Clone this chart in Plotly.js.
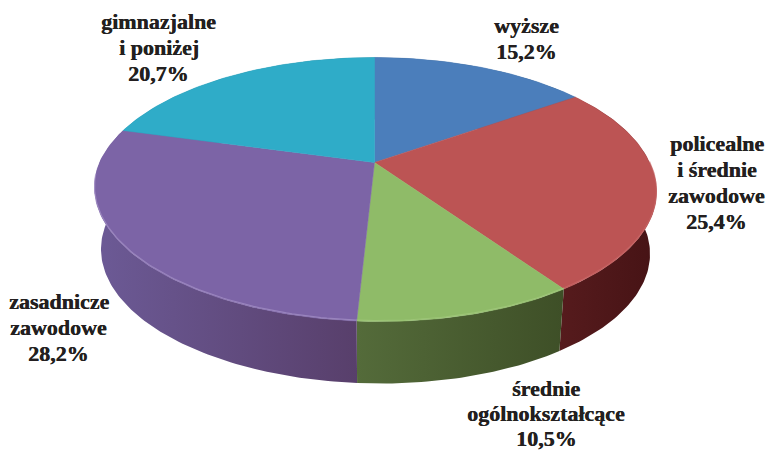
<!DOCTYPE html>
<html>
<head>
<meta charset="utf-8">
<script src="https://cdn.plot.ly/plotly-3.0.1.min.js"></script>
<style>html,body{margin:0;padding:0;background:#fff}#c{width:769px;height:451px}</style>
</head>
<body>
<div id="c"></div>
<script>
// Data
const categories = ['wyższe','policealne<br>i średnie<br>zawodowe','średnie<br>ogólnokształcące','zasadnicze<br>zawodowe','gimnazjalne<br>i poniżej'];
const values = [15.2, 25.4, 10.5, 28.2, 20.7];
const valueLabels = ['15,2%','25,4%','10,5%','28,2%','20,7%'];

// Styles
const topColors = ['#4b7ebb','#bc5454','#8fbb68','#7c64a6','#2facc8'];
const wallLeft  = ['#3a5f8e','#561b1d','#546b3a','#6c5a96','#23849a'];
const wallRight = ['#2f4d74','#461315','#3e4f27','#583f6b','#1c6c7e'];
const rimColors = ['#6f9bd1','#c96666','#a2c97e','#a592c8','#56c2d8'];
const labelX = [526, 716.5, 546, 58.5, 158.5];
const labelY = [38, 182, 413.5, 327, 47];
const lineGap = [26, 26, 25, 26, 26];

// Perspective geometry of the disc
const cx = 374.5, cy = 162.5, a = 275, b = 126.5, k = 0.2045, depth = 62, shrink = 0.977, lean = 0.038;
function topPt(t){
  const u=Math.sin(t), v=Math.cos(t), d=1+k*v, y=cy-b*v/d;
  return [cx+a*u/d+lean*Math.max(0,y-cy), y];
}
function botPt(t){ const p=topPt(t); return [cx+(p[0]-cx)*shrink, p[1]+depth]; }
function arc(t0,t1,fn){ const n=Math.max(2,Math.ceil((t1-t0)*180/Math.PI)); const o=[]; for(let i=0;i<=n;i++) o.push(fn(t0+(t1-t0)*i/n)); return o; }

const total = values.reduce((s,x)=>s+x,0);
let cum = 0;
const slices = values.map(v=>{ const s=cum/total*2*Math.PI; cum+=v; return [s, cum/total*2*Math.PI]; });

const traces = [];
// side walls
slices.forEach(([s,e],i)=>{
  const pts = arc(s,e,topPt).concat(arc(s,e,botPt).reverse());
  pts.push(pts[0]);
  traces.push({type:'scatter',mode:'lines',x:pts.map(p=>p[0]),y:pts.map(p=>p[1]),line:{width:0},
    fill:'toself',fillgradient:{type:'horizontal',colorscale:[[0,wallLeft[i]],[1,wallRight[i]]]},hoverinfo:'skip',showlegend:false});
});
// top faces
slices.forEach(([s,e],i)=>{
  const pts = [[cx,cy]].concat(arc(s,e,topPt)); pts.push([cx,cy]);
  traces.push({type:'scatter',mode:'lines',x:pts.map(p=>p[0]),y:pts.map(p=>p[1]),line:{width:0.5,color:topColors[i]},
    fill:'toself',fillcolor:topColors[i],hoverinfo:'skip',showlegend:false,name:categories[i]});
});
// soft highlight along the front rim
slices.forEach(([s,e],i)=>{
  const s2=Math.max(s,Math.PI/2), e2=Math.min(e,1.47*Math.PI);
  if(e2<=s2) return;
  const pts=arc(s2,e2,t=>{const p=topPt(t);return [p[0],p[1]-1];});
  traces.push({type:'scatter',mode:'lines',x:pts.map(p=>p[0]),y:pts.map(p=>p[1]),line:{width:1.2,color:rimColors[i]},opacity:0.7,hoverinfo:'skip',showlegend:false});
});

// labels: one annotation per line so the line gap can match the reference
const annotations = [];
categories.forEach((c,i)=>{
  const lines = c.split('<br>').concat(valueLabels[i]);
  lines.forEach((t,j)=>annotations.push({x:labelX[i],y:labelY[i]+(j-(lines.length-1)/2)*lineGap[i],xref:'x',yref:'y',
    xanchor:'center',yanchor:'middle',align:'center',showarrow:false,
    text:'<b>'+t+'</b>',font:{family:'"Liberation Serif",serif',size:22,color:'#231f20',shadow:'0.4px 0 0 #231f20'}}));
});

Plotly.newPlot('c',traces,{
  width:769,height:451,margin:{l:0,r:0,t:0,b:0},paper_bgcolor:'#fff',plot_bgcolor:'#fff',showlegend:false,
  xaxis:{range:[0,769],visible:false,fixedrange:true},
  yaxis:{range:[451,0],visible:false,fixedrange:true},
  annotations
},{displayModeBar:false,staticPlot:true});
</script>
</body>
</html>
